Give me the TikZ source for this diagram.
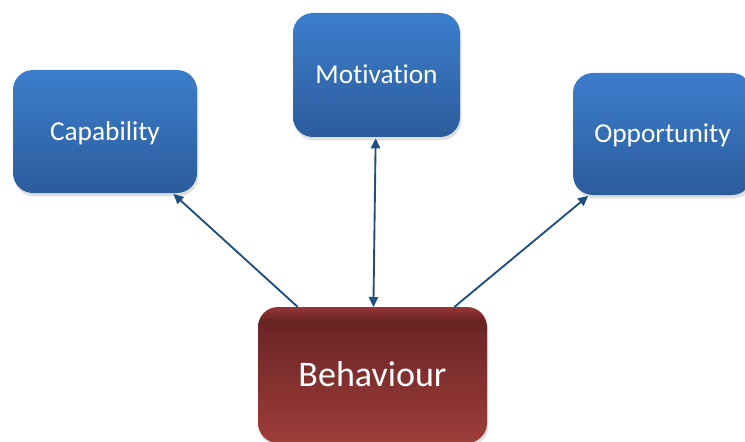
\documentclass[tikz,border=0pt]{standalone}
\usepackage{fontspec}
\setmainfont{Carlito}[Ligatures=NoCommon]
\usepackage{tikz}
\usetikzlibrary{arrows.meta,shadows}

\definecolor{boxtop}{RGB}{60,126,204}
\definecolor{boxbot}{RGB}{44,92,156}
\definecolor{arrowblue}{RGB}{31,78,128}
\pgfdeclareverticalshading{behshade}{100bp}{
  rgb(0bp)=(0.69,0.30,0.29);
  rgb(25bp)=(0.62,0.24,0.23);
  rgb(62bp)=(0.45,0.16,0.16);
  rgb(70bp)=(0.41,0.14,0.14);
  rgb(75bp)=(0.60,0.21,0.21);
  rgb(100bp)=(0.60,0.21,0.21)}

\begin{document}
\begin{tikzpicture}[x=0.75pt,y=0.75pt,yscale=-1,xscale=1,
  factor/.style={rounded corners=15pt,inner sep=0pt,outer sep=0pt,
    top color=boxtop,bottom color=boxbot,text=white,font=\fontsize{20.5}{24}\selectfont,
    text height=13.2pt,text depth=0pt,
    drop shadow={opacity=0.25,shadow xshift=1pt,shadow yshift=-2.5pt}},
  result/.style={rounded corners=15pt,inner sep=0pt,outer sep=0pt,
    shading=behshade,text=white,font=\fontsize{27}{31}\selectfont,
    text height=17.4pt,text depth=0pt,
    minimum width=171.75pt,minimum height=102pt,
    drop shadow={opacity=0.25,shadow xshift=1pt,shadow yshift=-2.5pt}},
  link/.style={draw=arrowblue,line width=1.4pt,
    arrows={-Triangle[length=7.5pt,width=7pt]}}]
\useasboundingbox (0,0) rectangle (745,442);

% the three factors
\node [factor,minimum width=138pt,minimum height=92.25pt] (cap) at (105,131.5) {Capability};
\node [factor,minimum width=125.25pt,minimum height=93pt] (mot) at (376.5,75) {Motivation};
\node [factor,minimum width=134.25pt,minimum height=91.5pt] (opp) at (662.5,134) {Opportunity};

% behaviour
\node [result] (beh) at (372.5,375) {Behaviour};

% links
\draw [link,shorten >=1pt] (beh) -- (cap);
\draw [link,arrows={Triangle[length=7.5pt,width=7pt]-Triangle[length=7.5pt,width=7pt]},shorten <=1pt] (mot) -- (beh);
\draw [link,shorten >=1pt] (beh) -- (opp);

\end{tikzpicture}
\end{document}
